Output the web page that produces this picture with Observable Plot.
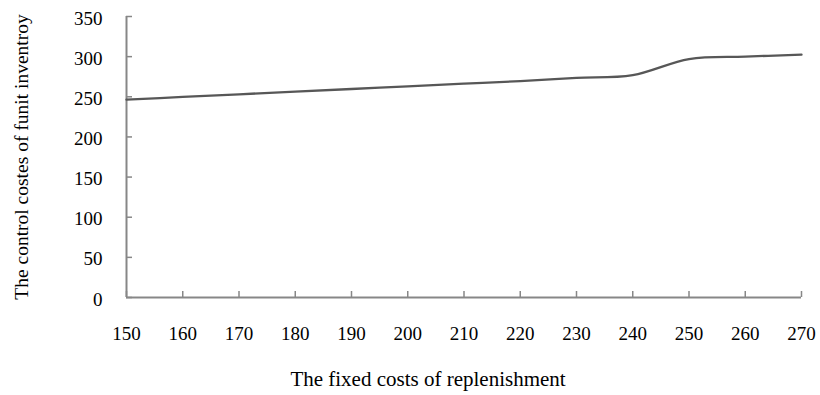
<!DOCTYPE html>
<html>
<head>
<meta charset="utf-8">
<script src="https://cdn.jsdelivr.net/npm/d3@7"></script>
<script src="https://cdn.jsdelivr.net/npm/@observablehq/plot@0.6"></script>
<style>
  html, body { margin: 0; padding: 0; background: #fff; }
  g[aria-label="xticklabels"] text, g[aria-label="yticklabels"] text { letter-spacing: 1px; }
  g[aria-label="xtitle"] text { letter-spacing: 1px; }
</style>
</head>
<body>
<div id="chart"></div>
<script>
// Data
const fixedCosts = [150, 160, 170, 180, 190, 200, 210, 220, 230, 240, 250, 260, 270];
const controlCosts = [246.5, 249.8, 253.1, 256.4, 259.7, 263, 266.3, 269.6, 273.5, 277, 297, 300, 302.5];
const xTicks = [150, 160, 170, 180, 190, 200, 210, 220, 230, 240, 250, 260, 270];
const yTicks = [0, 50, 100, 150, 200, 250, 300, 350];
const xTitle = "The fixed costs of replenishment";
const yTitle = "The control costes of funit inventroy";

const W = 820, H = 395, mL = 126, mR = 19, mT = 16, mB = 98;
const frameW = W - mL - mR, frameH = H - mT - mB;
const axisColor = "#878787";
const data = fixedCosts.map((x, i) => ({x, y: controlCosts[i]}));

const chart = Plot.plot({
  width: W, height: H,
  marginLeft: mL, marginRight: mR, marginTop: mT, marginBottom: mB,
  style: {fontFamily: "Liberation Serif, 'Times New Roman', serif", color: "#000", background: "#fff"},
  x: {domain: [150, 270], axis: null},
  y: {domain: [0, 350], axis: null},
  marks: [
    Plot.ruleX(xTicks, {x: d => d, insetTop: frameH - 6, stroke: axisColor, strokeWidth: 1.5}),
    Plot.ruleY(yTicks, {y: d => d, insetRight: frameW - 6, stroke: axisColor, strokeWidth: 1.5}),
    Plot.ruleY([0], {stroke: axisColor, strokeWidth: 2}),
    Plot.ruleX([150], {stroke: axisColor, strokeWidth: 2}),
    Plot.line(data, {x: "x", y: "y", curve: "cardinal", tension: 0, stroke: "#575757", strokeWidth: 2.3}),
    Plot.text(xTicks, {x: d => d, y: 0, text: d => String(d), dy: 36, fontSize: 19, fill: "#000", ariaLabel: "xticklabels"}),
    Plot.text(yTicks, {x: 150, y: d => d, text: d => String(d), textAnchor: "end", dx: -24, dy: 2, fontSize: 19, fill: "#000", ariaLabel: "yticklabels"}),
    Plot.text([xTitle], {frameAnchor: "bottom", text: d => d, lineAnchor: "middle", dx: -36, dy: 82, fontSize: 21, fill: "#000", ariaLabel: "xtitle"}),
    Plot.text([yTitle], {frameAnchor: "left", text: d => d, rotate: -90, textAnchor: "middle", lineAnchor: "middle", dx: -105, dy: 0, fontSize: 19.5, fill: "#000", ariaLabel: "ytitle"})
  ]
});
document.getElementById("chart").appendChild(chart);
</script>
</body>
</html>
